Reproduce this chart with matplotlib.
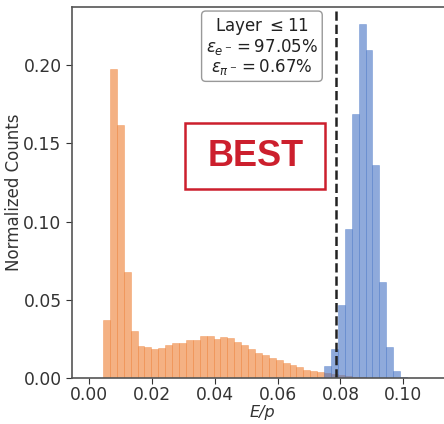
import numpy as np
import matplotlib.pyplot as plt
from matplotlib.patches import Rectangle

plt.rcParams['font.family'] = ['DejaVu Sans']

# histogram bins (shared by both samples)
bin_width = 0.0022
n_bins = 51
edges = np.arange(n_bins + 1) * bin_width

# pion (orange) normalized counts, starting at bin 2
pion_first_bin = 2
pion_counts = [0.037, 0.1974, 0.162, 0.0679, 0.030, 0.0205, 0.0199, 0.0184,
               0.0191, 0.021, 0.0224, 0.0226, 0.0241, 0.0243, 0.0267, 0.0268,
               0.0248, 0.0262, 0.0258, 0.0232, 0.0212, 0.0188, 0.0163, 0.0148,
               0.0130, 0.0112, 0.0093, 0.0083, 0.0068, 0.0052, 0.0045, 0.0037,
               0.0030, 0.0025, 0.0018, 0.0012, 0.0008, 0.0004]

# electron (blue) normalized counts, starting at bin 34
ele_first_bin = 34
ele_counts = [0.0079, 0.0188, 0.0469, 0.0953, 0.169, 0.2265, 0.21, 0.1363,
              0.0616, 0.0195, 0.0047, 0.0005]

threshold = 0.0787
layer_cut = 11
eff_e = 97.05
eff_pi = 0.67

x_ticks = [0.00, 0.02, 0.04, 0.06, 0.08, 0.10]
y_ticks = [0.00, 0.05, 0.10, 0.15, 0.20]

fig = plt.figure(figsize=(4.44, 4.24), dpi=100)
ax = fig.add_axes([0.162, 0.1085, 0.848, 0.8743])

pion_x = edges[pion_first_bin:pion_first_bin + len(pion_counts)]
ele_x = edges[ele_first_bin:ele_first_bin + len(ele_counts)]

ax.hist(pion_x, bins=edges, weights=pion_counts, color='#ED7D31', alpha=0.6,
        edgecolor='#ED7D31', linewidth=0.4)
ax.hist(ele_x, bins=edges, weights=ele_counts, color='#4472C4', alpha=0.6,
        edgecolor='#4472C4', linewidth=0.4)

ax.axvline(threshold, color='#222222', linestyle='--', linewidth=1.8)

ax.set_xlim(-0.0055, 0.1144)
ax.set_ylim(0, 0.237)
ax.set_xticks(x_ticks)
ax.set_yticks(y_ticks)
ax.tick_params(labelsize=12.3, colors='#333333', length=4)
ax.tick_params(axis='x', pad=1.5)
ax.set_xlabel('E/p', fontsize=11.5, color='#333333', style='italic')
ax.set_ylabel('Normalized Counts', fontsize=12, color='#333333')
ax.xaxis.set_label_coords(0.505, -0.074)
ax.yaxis.set_label_coords(-0.130, 0.5)
for s in ax.spines.values():
    s.set_color('#555555')
    s.set_linewidth(1.2)
ax.spines['right'].set_visible(False)

txt = (f'Layer $\\leq{layer_cut}$\n'
       f'$\\varepsilon_{{e^-}} = {eff_e:.2f}\\%$\n'
       f'$\\varepsilon_{{\\pi^-}} = {eff_pi:.2f}\\%$')
ax.text(0.055, 0.2118, txt, ha='center', va='center', fontsize=12,
        linespacing=1.0, color='#222222',
        bbox=dict(boxstyle='round,pad=0.25', facecolor='white',
                  edgecolor='#999999', linewidth=1))

# "BEST" stamp
fig.patches.append(Rectangle((185 / 444, 1 - 189 / 424), 140 / 444, 66 / 424,
                             transform=fig.transFigure, fill=False,
                             edgecolor='#CC1F2D', linewidth=1.8))
fig.text(256 / 444, 1 - 157 / 424, 'BEST', ha='center', va='center',
         fontsize=26, fontweight='bold', color='#CC1F2D',
         family='Liberation Sans')

fig.savefig('out.png', dpi=100)
